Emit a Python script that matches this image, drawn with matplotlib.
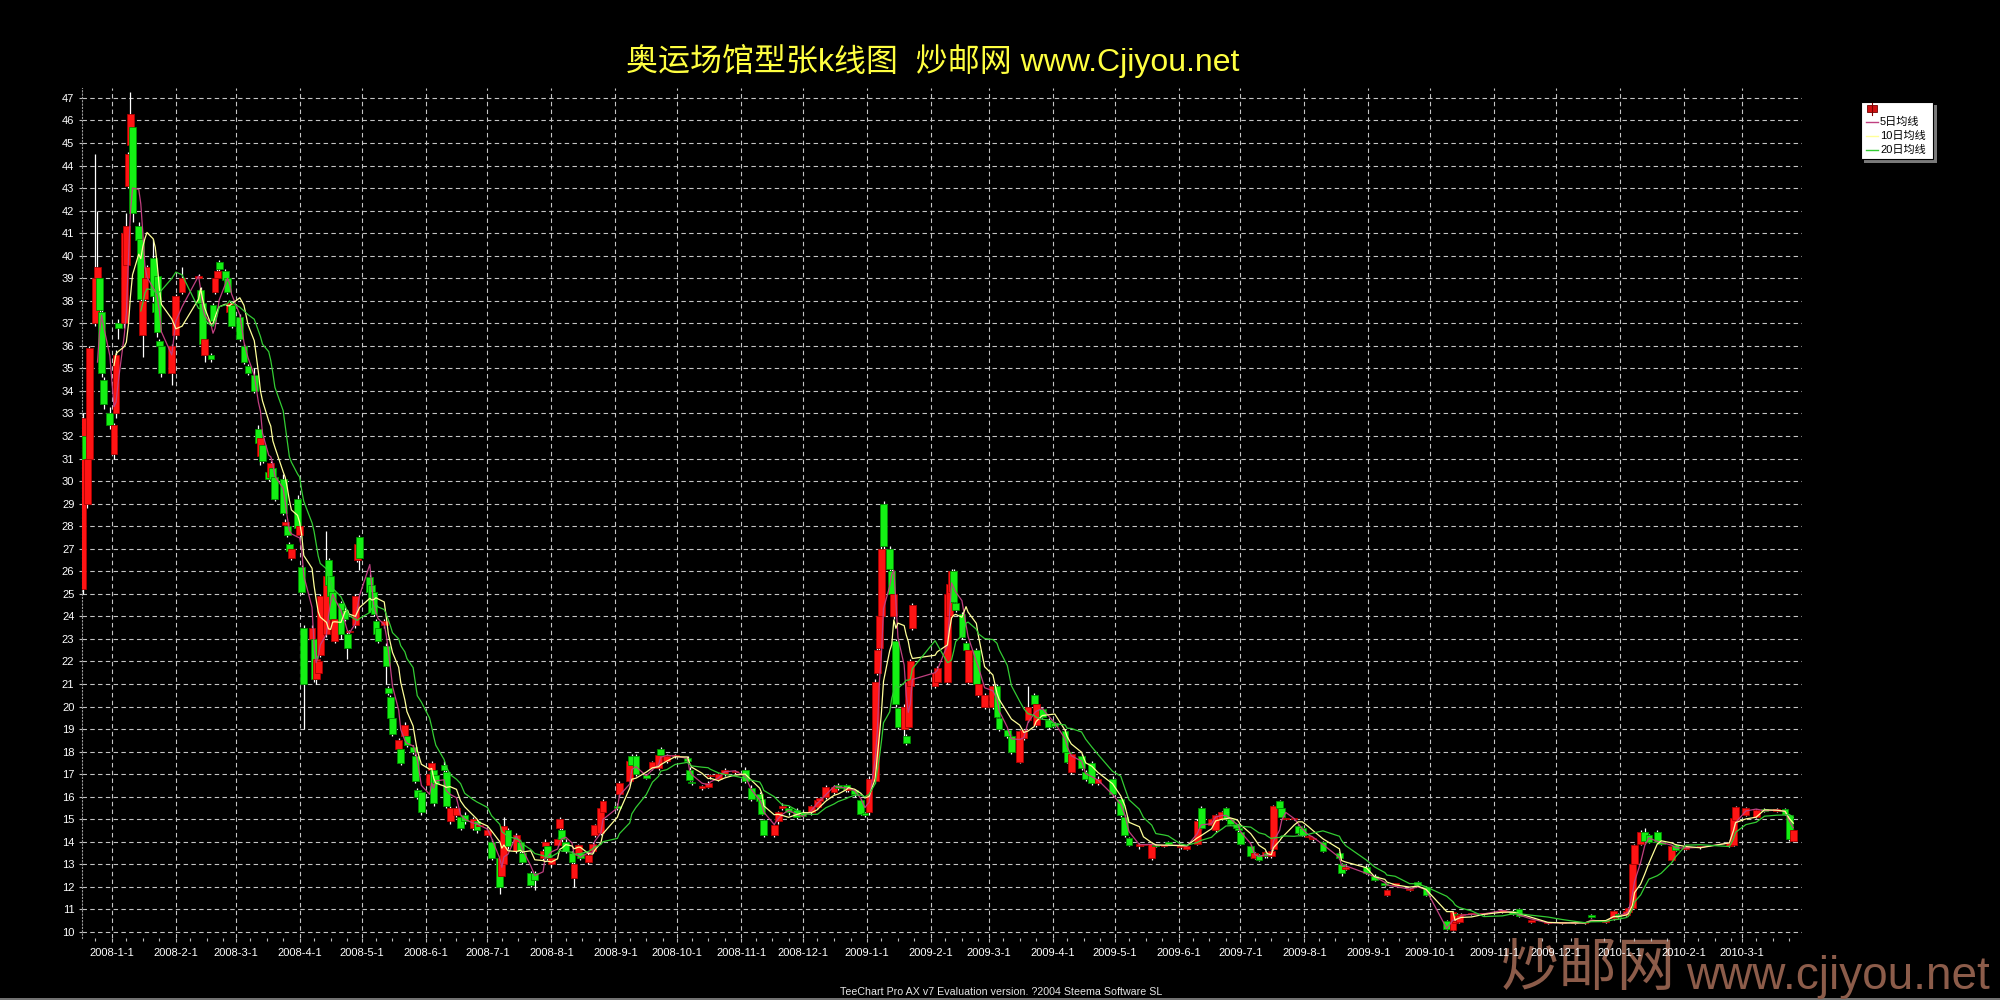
#!/usr/bin/env python
"""
plot.py

K-line (candlestick) chart of the Olympic venue stamp sheet with its
5 / 10 / 20 day moving averages, drawn in the old black TeeChart style.
"""

import matplotlib
matplotlib.use("Agg")

import matplotlib.dates as mdates
import matplotlib.pyplot as plt
import numpy as np
import pandas as pd
from matplotlib.patches import Rectangle
from matplotlib.ticker import FuncFormatter, MultipleLocator

# ---------------------------------------------------------------- data
# one line per month
dates = [
    "2007-12-18", "2007-12-19", "2007-12-20", "2007-12-21", "2007-12-24", "2007-12-25", "2007-12-26", "2007-12-27", "2007-12-28", "2007-12-31",
    "2008-01-02", "2008-01-03", "2008-01-04", "2008-01-07", "2008-01-08", "2008-01-09", "2008-01-10", "2008-01-11", "2008-01-14", "2008-01-15", "2008-01-16", "2008-01-17", "2008-01-18", "2008-01-21", "2008-01-22", "2008-01-23", "2008-01-24", "2008-01-25", "2008-01-30",
    "2008-02-01", "2008-02-04", "2008-02-12", "2008-02-13", "2008-02-14", "2008-02-15", "2008-02-18", "2008-02-19", "2008-02-20", "2008-02-21", "2008-02-22", "2008-02-25", "2008-02-26", "2008-02-27", "2008-02-28",
    "2008-03-03", "2008-03-05", "2008-03-07", "2008-03-10", "2008-03-12", "2008-03-13", "2008-03-14", "2008-03-17", "2008-03-18", "2008-03-19", "2008-03-20", "2008-03-24", "2008-03-25", "2008-03-26", "2008-03-27", "2008-03-28", "2008-03-31",
    "2008-04-01", "2008-04-02", "2008-04-03", "2008-04-07", "2008-04-08", "2008-04-09", "2008-04-10", "2008-04-11", "2008-04-14", "2008-04-15", "2008-04-16", "2008-04-17", "2008-04-18", "2008-04-21", "2008-04-23", "2008-04-24", "2008-04-25", "2008-04-28", "2008-04-29", "2008-04-30",
    "2008-05-05", "2008-05-06", "2008-05-07", "2008-05-08", "2008-05-09", "2008-05-12", "2008-05-13", "2008-05-14", "2008-05-15", "2008-05-16", "2008-05-19", "2008-05-20", "2008-05-22", "2008-05-23", "2008-05-26", "2008-05-27", "2008-05-28", "2008-05-30",
    "2008-06-03", "2008-06-04", "2008-06-05", "2008-06-06", "2008-06-10", "2008-06-11", "2008-06-13", "2008-06-16", "2008-06-18", "2008-06-20", "2008-06-24", "2008-06-26", "2008-06-27",
    "2008-07-01", "2008-07-03", "2008-07-07", "2008-07-08", "2008-07-09", "2008-07-11", "2008-07-15", "2008-07-17", "2008-07-18", "2008-07-22", "2008-07-24", "2008-07-28", "2008-07-29", "2008-07-30",
    "2008-08-01", "2008-08-04", "2008-08-05", "2008-08-06", "2008-08-08", "2008-08-11", "2008-08-12", "2008-08-14", "2008-08-15", "2008-08-19", "2008-08-21", "2008-08-22", "2008-08-25", "2008-08-26",
    "2008-09-02", "2008-09-03", "2008-09-08", "2008-09-09", "2008-09-11", "2008-09-16", "2008-09-19", "2008-09-22", "2008-09-23", "2008-09-26", "2008-09-30",
    "2008-10-06", "2008-10-07", "2008-10-08", "2008-10-13", "2008-10-16", "2008-10-17", "2008-10-21", "2008-10-24", "2008-10-29",
    "2008-11-03", "2008-11-06", "2008-11-10", "2008-11-11", "2008-11-12", "2008-11-17", "2008-11-19", "2008-11-21", "2008-11-24", "2008-11-28",
    "2008-12-01", "2008-12-05", "2008-12-08", "2008-12-09", "2008-12-12", "2008-12-16", "2008-12-18", "2008-12-22", "2008-12-23", "2008-12-26", "2008-12-29", "2008-12-31",
    "2009-01-02", "2009-01-05", "2009-01-06", "2009-01-07", "2009-01-08", "2009-01-09", "2009-01-12", "2009-01-13", "2009-01-14", "2009-01-15", "2009-01-16", "2009-01-19", "2009-01-20", "2009-01-21", "2009-01-22", "2009-01-23",
    "2009-02-03", "2009-02-04", "2009-02-09", "2009-02-10", "2009-02-11", "2009-02-12", "2009-02-13", "2009-02-16", "2009-02-18", "2009-02-19", "2009-02-23", "2009-02-24", "2009-02-27",
    "2009-03-03", "2009-03-05", "2009-03-06", "2009-03-10", "2009-03-12", "2009-03-16", "2009-03-18", "2009-03-20", "2009-03-23", "2009-03-24", "2009-03-27", "2009-03-30",
    "2009-04-02", "2009-04-07", "2009-04-08", "2009-04-10", "2009-04-15", "2009-04-17", "2009-04-20", "2009-04-23", "2009-04-30",
    "2009-05-04", "2009-05-06", "2009-05-08", "2009-05-13", "2009-05-15", "2009-05-19", "2009-05-21", "2009-05-25", "2009-05-27",
    "2009-06-02", "2009-06-05", "2009-06-10", "2009-06-12", "2009-06-17", "2009-06-19", "2009-06-22", "2009-06-24", "2009-06-26", "2009-06-29", "2009-06-30",
    "2009-07-01", "2009-07-06", "2009-07-08", "2009-07-10", "2009-07-13", "2009-07-14", "2009-07-16", "2009-07-17", "2009-07-20", "2009-07-21", "2009-07-23", "2009-07-27", "2009-07-29", "2009-07-31",
    "2009-08-03", "2009-08-05", "2009-08-10", "2009-08-18", "2009-08-19", "2009-08-21", "2009-08-31",
    "2009-09-04", "2009-09-09", "2009-09-10", "2009-09-14", "2009-09-21", "2009-09-25", "2009-09-29",
    "2009-10-09", "2009-10-12", "2009-10-13", "2009-10-14", "2009-10-15", "2009-10-16", "2009-10-21", "2009-10-27",
    "2009-11-05", "2009-11-10", "2009-11-13", "2009-11-19", "2009-11-27",
    "2009-12-04", "2009-12-10", "2009-12-15", "2009-12-18", "2009-12-25", "2009-12-29", "2009-12-31",
    "2010-01-04", "2010-01-05", "2010-01-07", "2010-01-08", "2010-01-11", "2010-01-13", "2010-01-15", "2010-01-19", "2010-01-21", "2010-01-26", "2010-01-28",
    "2010-02-02", "2010-02-09", "2010-02-23", "2010-02-25", "2010-02-26",
    "2010-03-03", "2010-03-08", "2010-03-12", "2010-03-18", "2010-03-22", "2010-03-24", "2010-03-26",
]

opens = [
    25.2, 32.0, 29.0, 31.0, 37.0, 39.0, 39.0, 37.5, 34.5, 33.0,
    31.2, 33.0, 37.0, 37.0, 39.6, 43.1, 44.9, 45.7, 41.3, 40.75, 36.5, 38.1, 39.0, 39.9, 37.9, 39.1, 36.2, 36.0, 34.8,
    36.5, 38.4, 39.0, 38.5, 37.9, 35.6, 35.6, 37.8, 38.4, 39.0, 39.7, 39.3, 39.0, 37.5, 37.8,
    37.3, 36.0, 35.1, 34.7, 32.3, 31.1, 31.6, 30.4, 30.2, 30.6, 30.2, 30.1, 28.05, 28.0, 27.2, 26.6, 29.2,
    27.6, 26.2, 23.5, 23.0, 23.0, 21.2, 21.5, 22.3, 23.2, 26.5, 25.8, 25.1, 22.9, 24.6, 24.3, 23.2, 23.3, 23.6, 26.5, 27.5,
    25.75, 25.4, 25.1, 23.8, 23.5, 23.6, 22.7, 20.8, 20.4, 19.5, 18.1, 18.1, 18.7, 18.7, 18.2, 17.8, 16.3, 16.2,
    16.5, 17.2, 17.2, 16.95, 17.4, 17.1, 14.9, 15.2, 15.1, 15.2, 14.6, 14.9, 14.7,
    14.3, 14.0, 13.3, 12.5, 13.0, 14.5, 13.6, 14.0, 13.5, 12.6, 12.6, 13.3, 13.8, 13.8,
    13.0, 13.85, 14.6, 14.5, 14.0, 13.5, 12.4, 13.4, 13.5, 13.1, 13.6, 14.3, 14.4, 15.3,
    15.6, 16.1, 16.7, 17.8, 17.8, 16.95, 17.25, 17.25, 18.1, 17.6, 17.8,
    17.7, 17.2, 16.65, 16.4, 16.45, 16.9, 16.8, 17.0, 17.1,
    17.2, 16.4, 16.1, 15.9, 14.95, 14.3, 14.9, 15.5, 15.5, 15.4,
    15.3, 15.3, 15.55, 15.8, 16.0, 16.2, 16.5, 16.5, 16.3, 16.3, 15.85, 15.25,
    15.3, 16.7, 21.5, 22.6, 24.0, 29.0, 27.0, 26.0, 24.0, 22.9, 19.95, 19.0, 18.7, 19.1, 20.9, 23.5,
    20.9, 21.1, 21.1, 24.0, 25.1, 26.0, 24.6, 24.1, 22.8, 21.1, 22.5, 20.5, 20.0,
    20.0, 20.9, 19.5, 18.95, 18.7, 17.55, 18.6, 19.4, 20.5, 19.2, 19.9, 19.4,
    19.25, 18.9, 18.0, 17.1, 17.8, 17.1, 17.5, 16.6, 16.8,
    15.9, 15.1, 14.15, 13.8, 13.85, 13.3, 13.85, 13.8, 14.0,
    13.75, 13.7, 13.9, 15.5, 14.75, 14.5, 15.0, 15.5, 15.0, 14.8, 14.6,
    14.45, 13.8, 13.3, 13.4, 13.35, 13.5, 13.35, 13.7, 15.8, 15.5, 15.0, 15.0, 14.7, 14.6,
    14.2, 14.1, 14.0, 13.5, 13.0, 12.8, 12.9,
    12.5, 12.15, 11.65, 12.1, 11.85, 12.2, 12.0,
    10.5, 10.1, 10.4, 10.8, 10.45, 10.75, 10.8, 10.8,
    10.9, 10.95, 11.0, 10.45, 10.4,
    10.4, 10.4, 10.4, 10.75, 10.45, 10.6, 10.8,
    10.75, 10.9, 11.05, 13.0, 13.9, 14.45, 14.3, 14.45, 14.0, 13.2, 13.85,
    13.7, 13.75, 13.8, 13.85, 14.95,
    15.2, 15.1, 15.45, 15.35, 15.45, 15.2, 14.05,
]

highs = [
    33.0, 32.4, 31.2, 36.0, 44.5, 42.0, 39.2, 37.6, 34.6, 33.3,
    32.6, 35.8, 37.2, 41.2, 41.9, 44.6, 47.25, 46.0, 41.5, 41.0, 38.2, 39.1, 39.6, 40.75, 38.0, 39.2, 36.3, 36.1, 36.1,
    38.3, 39.5, 39.2, 38.6, 38.0, 36.4, 35.7, 37.9, 39.0, 39.4, 39.8, 39.4, 39.1, 38.0, 37.9,
    37.4, 36.1, 35.2, 35.0, 32.5, 32.0, 31.7, 30.6, 30.9, 30.7, 30.3, 30.3, 28.3, 28.1, 27.3, 27.1, 29.4,
    28.1, 26.3, 23.6, 23.6, 23.1, 22.2, 22.1, 25.0, 27.8, 26.6, 25.9, 25.2, 24.0, 24.7, 24.4, 23.3, 23.4, 25.0, 27.3, 27.6,
    25.9, 25.5, 25.2, 23.9, 23.6, 23.9, 22.8, 20.9, 20.5, 19.6, 18.6, 18.2, 19.3, 18.8, 18.3, 17.9, 16.4, 16.3,
    17.1, 17.6, 17.3, 17.0, 17.6, 17.2, 15.6, 15.6, 15.2, 15.3, 15.1, 15.0, 14.9,
    14.6, 14.1, 13.4, 13.4, 15.1, 14.6, 14.4, 14.1, 13.6, 12.7, 12.7, 13.7, 14.1, 13.9,
    13.4, 14.2, 15.1, 14.6, 14.1, 13.6, 13.1, 13.9, 13.6, 13.5, 14.0, 14.8, 15.6, 15.9,
    15.7, 16.7, 17.7, 17.9, 17.9, 17.0, 17.6, 17.9, 18.2, 17.9, 17.9,
    17.8, 17.3, 16.7, 16.5, 16.7, 17.0, 17.05, 17.25, 17.2,
    17.3, 16.5, 16.2, 16.0, 15.0, 14.8, 15.35, 15.7, 15.6, 15.5,
    15.35, 15.65, 15.9, 16.0, 16.5, 16.5, 16.6, 16.55, 16.45, 16.35, 15.9, 15.3,
    16.9, 21.2, 22.6, 24.1, 27.1, 29.1, 27.1, 26.1, 25.1, 23.0, 20.0, 20.1, 18.8, 21.2, 22.1, 24.6,
    21.6, 21.8, 25.1, 25.5, 26.1, 26.1, 24.7, 24.2, 22.9, 22.6, 22.6, 21.1, 20.6,
    21.0, 21.0, 19.6, 19.0, 18.8, 19.0, 19.0, 20.9, 20.6, 20.2, 20.0, 19.5,
    19.3, 19.0, 18.1, 18.0, 17.9, 17.2, 17.6, 16.9, 16.9,
    16.0, 15.2, 14.2, 13.95, 13.9, 13.95, 13.9, 13.85, 14.05,
    13.85, 13.85, 15.0, 15.6, 15.05, 15.25, 15.35, 15.55, 15.05, 14.85, 14.65,
    14.5, 13.85, 13.55, 13.45, 13.6, 13.55, 13.65, 15.65, 15.85, 15.55, 15.05, 15.05, 14.75, 14.65,
    14.25, 14.2, 14.05, 13.55, 13.05, 12.95, 12.95,
    12.55, 12.2, 11.9, 12.15, 11.95, 12.25, 12.05,
    10.55, 10.95, 10.55, 10.85, 10.8, 10.85, 10.85, 10.85,
    10.98, 11.0, 11.05, 10.5, 10.45,
    10.45, 10.45, 10.45, 10.8, 10.5, 10.98, 10.85,
    10.98, 11.1, 13.05, 13.9, 14.5, 14.6, 14.35, 14.5, 14.05, 13.85, 13.9,
    13.82, 13.8, 14.0, 15.1, 15.6,
    15.55, 15.45, 15.5, 15.5, 15.5, 15.25, 14.55,
]

lows = [
    25.0, 30.8, 28.8, 30.9, 36.9, 38.8, 37.4, 34.6, 33.2, 32.3,
    31.0, 32.8, 36.3, 36.8, 39.4, 43.0, 44.8, 41.5, 40.5, 37.9, 35.5, 37.9, 38.9, 38.0, 37.3, 36.4, 35.9, 34.6, 34.25,
    36.3, 38.3, 39.0, 37.8, 36.0, 35.3, 35.3, 37.0, 38.3, 38.9, 39.3, 38.8, 38.3, 37.3, 36.8,
    36.2, 35.2, 34.7, 33.9, 31.6, 30.7, 30.8, 30.0, 30.0, 30.0, 29.1, 28.5, 27.9, 27.5, 26.8, 26.5, 27.8,
    27.5, 25.0, 19.0, 22.9, 21.1, 21.0, 21.4, 22.2, 23.1, 25.3, 24.8, 23.8, 22.8, 23.0, 23.8, 22.1, 23.2, 23.5, 26.4, 26.05,
    25.0, 24.1, 24.0, 23.1, 22.8, 23.5, 21.0, 20.5, 19.4, 18.7, 18.0, 17.4, 18.6, 18.2, 17.9, 16.6, 15.9, 15.2,
    16.4, 17.1, 15.6, 16.5, 17.1, 15.5, 14.8, 15.1, 14.5, 14.8, 14.5, 14.4, 14.5,
    14.2, 13.2, 11.7, 12.4, 12.9, 13.7, 13.5, 13.5, 13.0, 12.0, 11.85, 13.2, 13.7, 13.2,
    12.9, 13.8, 14.5, 14.0, 13.5, 13.0, 12.0, 13.3, 13.2, 13.0, 13.5, 14.2, 14.3, 15.2,
    15.4, 16.0, 16.6, 17.3, 16.9, 16.8, 17.2, 17.2, 17.8, 17.5, 17.7,
    17.5, 16.7, 16.5, 16.3, 16.4, 16.8, 16.7, 16.9, 17.0,
    16.6, 15.8, 15.7, 15.2, 14.2, 14.2, 14.8, 15.4, 15.2, 15.0,
    15.1, 15.2, 15.5, 15.7, 15.9, 16.1, 16.3, 16.2, 16.2, 16.0, 15.2, 15.1,
    15.2, 16.6, 21.4, 22.5, 23.5, 27.0, 26.0, 24.9, 23.9, 20.0, 19.0, 18.6, 18.3, 19.0, 20.8, 23.4,
    20.8, 21.0, 21.0, 23.9, 25.0, 24.6, 24.2, 23.0, 22.4, 21.0, 20.9, 20.4, 19.9,
    19.9, 19.5, 18.9, 18.6, 17.9, 17.5, 18.5, 19.3, 20.0, 19.1, 19.5, 19.0,
    19.1, 17.9, 17.5, 17.0, 17.2, 16.7, 16.5, 16.5, 16.0,
    15.1, 14.2, 13.8, 13.7, 13.8, 13.2, 13.75, 13.75, 13.85,
    13.7, 13.65, 13.85, 14.5, 14.7, 14.45, 14.95, 14.95, 14.75, 14.55, 14.45,
    13.85, 13.3, 13.25, 13.15, 13.3, 13.3, 13.3, 13.65, 15.45, 15.05, 14.95, 14.95, 14.35, 14.25,
    14.15, 14.05, 13.55, 13.25, 12.5, 12.75, 12.55,
    12.25, 12.05, 11.6, 12.05, 11.8, 12.05, 11.6,
    10.1, 10.05, 10.35, 10.7, 10.4, 10.7, 10.75, 10.75,
    10.85, 10.75, 10.65, 10.4, 10.35,
    10.35, 10.35, 10.35, 10.6, 10.4, 10.55, 10.6,
    10.7, 10.85, 11.0, 12.95, 13.85, 14.0, 13.95, 13.95, 13.85, 13.15, 13.6,
    13.65, 13.7, 13.75, 13.8, 14.9,
    15.15, 15.05, 15.3, 15.3, 15.2, 14.05, 14.0,
]

closes = [
    32.8, 31.0, 31.0, 35.9, 39.0, 39.5, 37.6, 34.8, 33.4, 32.5,
    32.5, 35.6, 36.8, 41.0, 41.3, 44.5, 46.3, 41.9, 40.7, 38.1, 38.0, 39.0, 39.5, 38.2, 37.5, 36.6, 36.0, 34.8, 36.0,
    38.2, 39.0, 39.1, 37.9, 36.1, 36.3, 35.4, 37.1, 39.0, 39.3, 39.4, 38.9, 38.4, 37.9, 36.9,
    36.3, 35.3, 34.8, 34.0, 31.7, 31.9, 30.9, 30.1, 30.8, 30.1, 29.2, 28.6, 28.2, 27.6, 26.9, 27.0, 27.9,
    28.0, 25.1, 21.0, 23.5, 21.2, 22.1, 22.0, 24.9, 25.8, 25.4, 24.9, 23.9, 23.9, 23.2, 23.9, 22.6, 23.3, 24.9, 27.2, 26.6,
    25.1, 24.2, 24.1, 23.2, 22.9, 23.8, 21.8, 20.6, 19.5, 18.8, 18.5, 17.5, 19.2, 18.3, 18.0, 16.7, 16.0, 15.3,
    17.0, 17.5, 15.7, 16.6, 17.2, 15.6, 15.5, 15.5, 14.6, 14.9, 15.0, 14.5, 14.7,
    14.5, 13.3, 12.0, 13.3, 14.7, 13.8, 14.3, 13.6, 13.1, 12.1, 12.3, 13.6, 14.0, 13.3,
    13.3, 14.1, 15.0, 14.1, 13.6, 13.1, 13.0, 13.85, 13.3, 13.4, 13.9, 14.75, 15.5, 15.8,
    15.5, 16.6, 17.6, 17.4, 17.0, 16.85, 17.55, 17.85, 17.85, 17.8, 17.8,
    17.6, 16.75, 16.6, 16.45, 16.6, 16.9, 17.0, 17.2, 17.1,
    16.7, 15.9, 15.8, 15.25, 14.3, 14.75, 15.3, 15.6, 15.3, 15.1,
    15.15, 15.6, 15.85, 15.95, 16.45, 16.45, 16.4, 16.3, 16.4, 16.1, 15.25, 15.2,
    16.8, 21.1, 22.5, 24.0, 27.0, 27.1, 26.1, 25.0, 25.0, 20.1, 19.1, 20.0, 18.4, 21.1, 22.0, 24.5,
    21.5, 21.7, 25.0, 25.45, 26.0, 24.65, 24.3, 23.1, 22.5, 22.5, 21.0, 21.0, 20.5,
    20.9, 19.55, 19.0, 18.7, 18.0, 18.9, 18.95, 20.0, 20.1, 20.1, 19.55, 19.1,
    19.15, 18.0, 17.55, 17.9, 17.25, 16.8, 16.6, 16.8, 16.1,
    15.2, 14.3, 13.85, 13.9, 13.85, 13.9, 13.8, 13.8, 13.9,
    13.8, 13.8, 14.9, 14.6, 15.0, 15.2, 15.3, 15.0, 14.8, 14.6, 14.5,
    13.9, 13.35, 13.5, 13.2, 13.55, 13.35, 13.6, 15.6, 15.5, 15.1, 15.0, 15.0, 14.4, 14.3,
    14.2, 14.15, 13.6, 13.3, 12.6, 12.9, 12.6,
    12.3, 12.1, 11.85, 12.1, 11.9, 12.1, 11.65,
    10.15, 10.9, 10.5, 10.75, 10.75, 10.8, 10.8, 10.8,
    10.95, 10.8, 10.7, 10.45, 10.4,
    10.4, 10.4, 10.4, 10.65, 10.45, 10.95, 10.65,
    10.95, 11.05, 13.0, 13.85, 14.45, 14.05, 14.0, 14.0, 13.9, 13.8, 13.65,
    13.8, 13.75, 13.95, 15.05, 15.55,
    15.5, 15.4, 15.35, 15.45, 15.25, 14.1, 14.5,
]

title = "奥运场馆型张k线图  炒邮网 www.Cjiyou.net"
ma_labels = ["5日均线", "10日均线", "20日均线"]
ma_days = [5, 10, 20]
ma_colors = ["#C04080", "#FFFF99", "#33CC33"]
footer = "TeeChart Pro AX v7 Evaluation version. ?2004 Steema Software SL"
watermark_cn = "炒邮网"
watermark_en = "www.cjiyou.net"

assert len(dates) == len(opens) == len(highs) == len(lows) == len(closes)

LATIN = ["Liberation Sans", "Noto Sans CJK SC"]
CJK = ["Noto Sans CJK SC", "DejaVu Sans"]

df = pd.DataFrame({"o": opens, "h": highs, "l": lows, "c": closes},
                  index=pd.to_datetime(dates))
x = mdates.date2num(df.index.to_pydatetime())

fig = plt.figure(figsize=(20, 10), dpi=100, facecolor="black")
ax = fig.add_axes([0.041, 0.062, 0.86, 0.85])
ax.set_facecolor("black")
ax.set_axisbelow(True)

# candles: red = close above open, green = close below open
up = (df.c >= df.o).values
body = np.where(up, "#FF1414", "#14F014")
edge = np.where(up, "#B00000", "#009000")
ax.vlines(x, df.l, df.h, color="white", linewidth=0.9, zorder=3)
ax.bar(x, np.maximum((df.c - df.o).abs(), 0.06), bottom=np.minimum(df.o, df.c),
       width=3.3, color=body, edgecolor=edge, linewidth=0.6, zorder=4)

# moving averages over trading days, taken on a calendar window so the
# gaps in the sampled candles do not stretch them
start = df.index[0]
for n, col in zip(ma_days, ma_colors):
    win = pd.Timedelta(days=round(n * 7 / 5))
    ma = df.c.rolling(win).mean()
    ma[df.index < start + win] = np.nan
    ax.plot(x, ma.values, color=col, linewidth=0.9, zorder=5)

base = mdates.date2num(pd.Timestamp("2008-01-01").to_pydatetime())
ax.set_xlim(base - 14.5, base + 819.2)
ax.set_ylim(9.73, 47.44)


def date_label(v, pos):
    d = mdates.num2date(v)
    return f"{d.year}-{d.month}-{d.day}"


ax.xaxis.set_major_locator(mdates.MonthLocator())
ax.xaxis.set_minor_locator(mdates.DayLocator(bymonthday=[8, 16, 24]))
ax.xaxis.set_major_formatter(FuncFormatter(date_label))
ax.yaxis.set_major_locator(MultipleLocator(1))

ax.grid(True, which="major", color="#C4C4C4", linestyle=(0, (4, 3)), linewidth=0.8)
ax.tick_params(axis="both", which="both", colors="#BDBDBD", labelcolor="white",
               labelsize=8, width=0.8)
ax.tick_params(axis="x", which="major", length=3, pad=4)
ax.tick_params(axis="x", which="minor", length=2.5)
ax.tick_params(axis="y", which="major", length=2.5, pad=3)
for lab in ax.get_xticklabels() + ax.get_yticklabels():
    lab.set_family(LATIN)

for side in ["top", "right", "bottom"]:
    ax.spines[side].set_visible(False)
ax.spines["left"].set_color("#9A9A9A")
ax.spines["left"].set_linestyle((0, (1, 2)))

fig.text(0.4665, 0.939, title, color="#FFFF40", fontsize=23,
         ha="center", va="center", family=LATIN)

# overlay in pixel units for legend, footer and watermark
ov = fig.add_axes([0, 0, 1, 1])
ov.set_zorder(-1)
ov.set_xlim(0, 2000)
ov.set_ylim(1000, 0)
ov.patch.set_visible(False)
ov.axis("off")

# legend box with its drop shadow
ov.add_patch(Rectangle((1864, 105), 73, 58, facecolor="#7A7A7A", edgecolor="none"))
ov.add_patch(Rectangle((1861, 102), 72, 57, facecolor="white", edgecolor="black", linewidth=0.8))
ov.plot([1872, 1872], [102.5, 115], color="#800000", linewidth=0.8)
ov.add_patch(Rectangle((1867, 105), 10, 7, facecolor="#D01010", edgecolor="#700000", linewidth=0.6))
for i, (lab, col) in enumerate(zip(ma_labels, ma_colors)):
    yy = 122 + 14 * i
    ov.plot([1866, 1878], [yy, yy], color=col, linewidth=1.0)
    ov.text(1880, yy, lab, fontsize=8, color="black", va="center", ha="left", family=LATIN)

ov.text(1001, 992, footer, fontsize=7.7, color="#E6E6E6", ha="center", va="center",
        family=["Liberation Sans"])

ov.text(1588, 999, watermark_cn, fontsize=42, color="#8C5C4A", ha="center",
        va="bottom", family=CJK)
ov.text(1838, 999, watermark_en, fontsize=33, color="#8C5C4A", ha="center",
        va="bottom", family=["Liberation Sans"])
ov.plot([0, 2000], [999, 999], color="#8A8A8A", linewidth=1.2)

fig.savefig("out.png", dpi=100, facecolor="black")
